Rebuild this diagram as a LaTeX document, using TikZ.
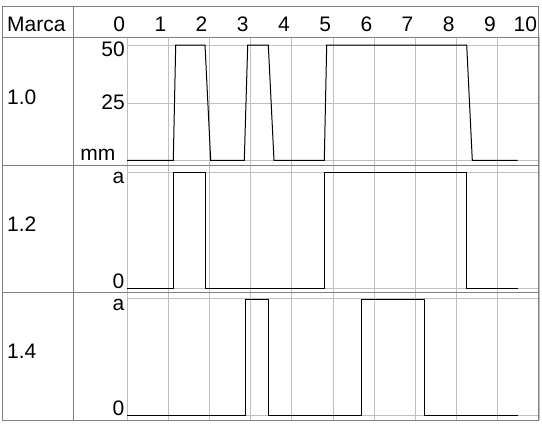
\documentclass[tikz,border=0pt]{standalone}
\usepackage{fontspec}
\setmainfont{Liberation Sans}
\definecolor{bordergray}{HTML}{808080}
\definecolor{gridgray}{HTML}{C0C0C0}
\begin{document}
\begin{tikzpicture}[x=1pt,y=-1pt,
  border/.style={draw=bordergray,line width=1pt},
  gridline/.style={draw=gridgray,line width=1pt},
  signal/.style={draw=black,line width=1pt,line join=miter},
  lbl/.style={inner sep=0pt,font=\fontsize{21}{24}\selectfont},
  ]
\useasboundingbox (0,0) rectangle (542,424);
% grid
\foreach \i in {0,...,10} {
  \draw[gridline] ({127+41.2*\i},37) -- ({127+41.2*\i},420);
}
\foreach \yy in {45,103,160.3,172.5,288,298.8,415.5} {
  \draw[gridline] (127,\yy) -- (538.5,\yy);
}
% table borders
\draw[border] (2,6) rectangle (538.5,420);
\draw[border] (2,37) -- (538.5,37);
\draw[border] (2,165) -- (538.5,165);
\draw[border] (2,292) -- (538.5,292);
\draw[border] (73,6) -- (73,420);
% header
\node[lbl,anchor=base west] (marca) at (7,31.5) {Marca};
\foreach \i in {0,...,10} {
  \node[lbl,anchor=base east] (h\i) at ({127+41.2*\i-1.8},31.5) {\i};
}
% row labels
\node[lbl,anchor=base west] (r1) at (7,104) {1.0};
\node[lbl,anchor=base west] (r2) at (7,231) {1.2};
\node[lbl,anchor=base west] (r3) at (7,358) {1.4};
% axis labels
\node[lbl,anchor=base east] (y50) at (125,56) {50};
\node[lbl,anchor=base east] (y25) at (125,109) {25};
\node[lbl,anchor=base east] (ymm) at (115.5,160) {mm};
\node[lbl,anchor=base east] (a2) at (124.5,183) {a};
\node[lbl,anchor=base east] (z2) at (124.5,288) {0};
\node[lbl,anchor=base east] (a3) at (124.5,310) {a};
\node[lbl,anchor=base east] (z3) at (124.5,415) {0};
% signals
\draw[signal] (127,160.3) -- (173.3,160.3) -- (175.7,45) -- (205,45) -- (210.7,160.3)
  -- (244.3,160.3) -- (247.7,45) -- (268.3,45) -- (274,160.3) -- (324.3,160.3)
  -- (326.7,45) -- (466.7,45) -- (472.3,160.3) -- (517.7,160.3);
\draw[signal] (127,288) -- (173.3,288) -- (173.3,172.5) -- (205,172.5) -- (205,288)
  -- (324.3,288) -- (324.3,172.5) -- (466.3,172.5) -- (466.3,288) -- (517.7,288);
\draw[signal] (127,415.5) -- (245,415.5) -- (245,299) -- (268.3,299) -- (268.3,415.5)
  -- (361.7,415.5) -- (361.7,299) -- (424.3,299) -- (424.3,415.5) -- (517.7,415.5);
\end{tikzpicture}
\end{document}
